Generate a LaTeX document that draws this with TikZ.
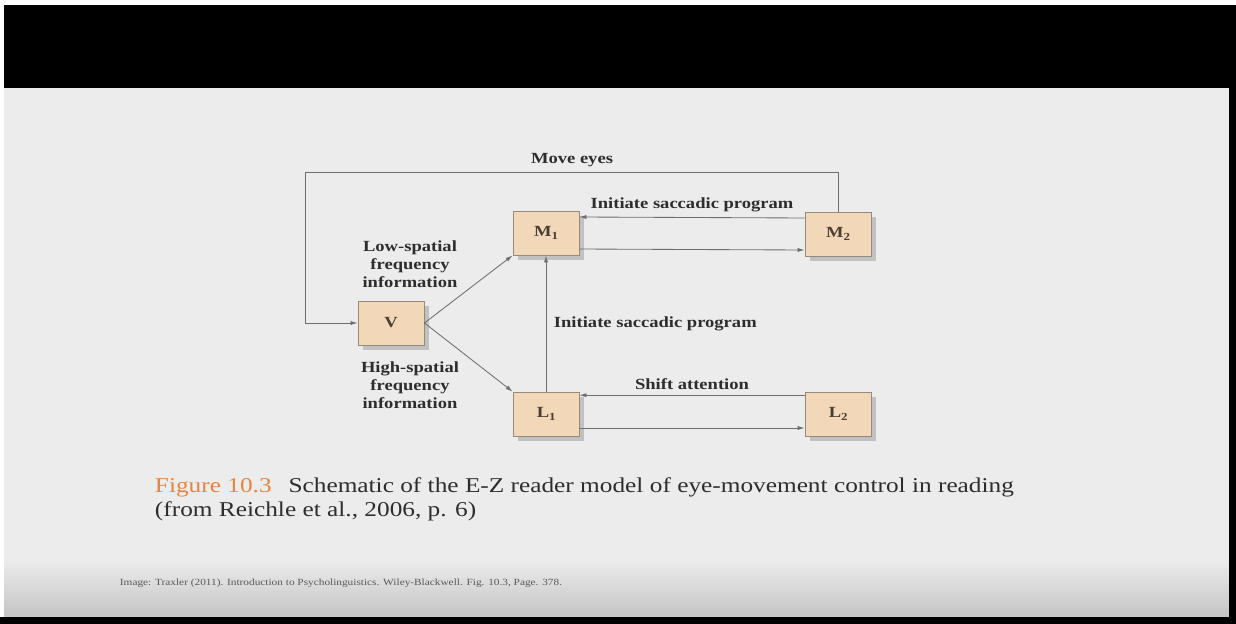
\documentclass[tikz,border=0pt]{standalone}
\usepackage{fontspec}
\setmainfont[FakeStretch=1.2]{Liberation Serif}
\usepackage{xcolor}
\definecolor{ezbox}{RGB}{242,216,184}
\definecolor{ezedge}{RGB}{150,138,125}
\definecolor{ezline}{RGB}{110,110,110}
\definecolor{ezslide}{RGB}{236,236,236}
\definecolor{ezslidedark}{RGB}{196,196,196}
\definecolor{ezorange}{RGB}{232,132,60}
\definecolor{eztext}{RGB}{45,45,45}
\usetikzlibrary{arrows.meta,positioning,shadows}

\begin{document}
\begin{tikzpicture}[x=0.025cm, y=-0.025cm,
  ezstage/.style={draw=ezedge, fill=ezbox, line width=0.6pt, minimum width=1.65cm, minimum height=1.1cm,
                  font=\fontsize{11}{13}\selectfont\bfseries, text=eztext!80!brown,
                  drop shadow={shadow xshift=0.12cm, shadow yshift=-0.12cm, opacity=0.18, fill=black}},
  ezlink/.style={-{Latex[length=5pt,width=3pt]}, line width=0.6pt, ezline},
  ezlabel/.style={font=\fontsize{11}{13}\selectfont\bfseries, text=eztext, align=center}]
  \useasboundingbox (0,0) rectangle (1236,624);

  %% Slide frame
  \fill[white] (0,0) rectangle (1236,624);
  \fill[black] (4,5) rectangle (1236,88);
  \fill[ezslide] (4,88) rectangle (1229,617);
  \shade[top color=ezslide, bottom color=ezslidedark] (4,560) rectangle (1229,617);
  \fill[black] (1229,88) rectangle (1236,624);
  \fill[black] (0,617) rectangle (1236,624);

  %% Stages
  \node[ezstage] (v)  at (391,323) {V};
  \node[ezstage] (m1) at (546,233) {M$_\mathbf{1}$};
  \node[ezstage] (m2) at (838,234) {M$_\mathbf{2}$};
  \node[ezstage] (l1) at (546,414) {L$_\mathbf{1}$};
  \node[ezstage] (l2) at (838,414) {L$_\mathbf{2}$};
  \coordinate (loop) at (305,172);

  %% Connectors
  \draw[ezlink] (m2.north) |- (loop) |- (v.west);
  \node[ezlabel] (moveeyes) at (572,160) {Move eyes};
  \draw[ezlink] ([yshift=0.4cm]m2.west) -- ([yshift=0.4cm]m1.east) node[midway,above,ezlabel] {Initiate saccadic program};
  \draw[ezlink] ([yshift=-0.4cm]m1.east) -- ([yshift=-0.4cm]m2.west);
  \draw[ezlink] (v.east) -- (m1.south west);
  \draw[ezlink] (v.east) -- (l1.north west);
  \draw[ezlink] (l1.north) -- (m1.south) node[midway,right,xshift=2pt,ezlabel] {Initiate saccadic program};
  \draw[ezlink] ([yshift=0.47cm]l2.west) -- ([yshift=0.47cm]l1.east) node[midway,above,ezlabel] {Shift attention};
  \draw[ezlink] ([yshift=-0.35cm]l1.east) -- ([yshift=-0.35cm]l2.west);
  \node[ezlabel] (lowsf)  at (410,264) {Low-spatial\\frequency\\information};
  \node[ezlabel] (highsf) at (410,385) {High-spatial\\frequency\\information};

  %% Caption and credit
  \node[anchor=west, font=\fontsize{15}{17}\selectfont, text=eztext, align=left] (caption) at (150,499)
    {\textcolor{ezorange}{Figure 10.3}\hspace{0.8em}Schematic of the E-Z reader model of eye-movement control in reading\\
     (from Reichle et al., 2006, p. 6)};
  \node[anchor=west, font=\fontsize{6.7}{8}\selectfont, text=eztext!80] (credit) at (115,583)
    {Image: Traxler (2011). Introduction to Psycholinguistics. Wiley-Blackwell. Fig. 10.3, Page. 378.};
\end{tikzpicture}
\end{document}
